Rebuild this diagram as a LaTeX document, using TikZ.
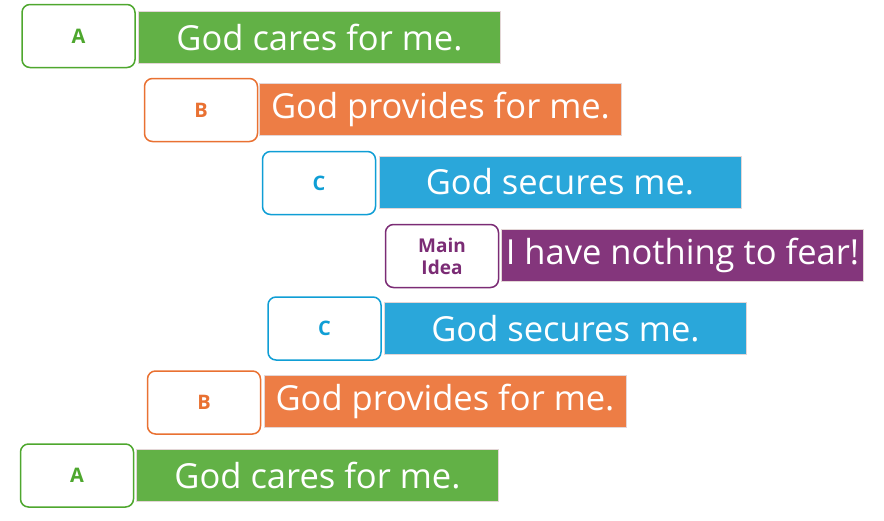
\documentclass[tikz,border=0pt]{standalone}
\usepackage{fontspec}
\setmainfont{Open Sans}
\definecolor{gA}{HTML}{62B146}
\definecolor{gAt}{HTML}{4EA72E}
\definecolor{oB}{HTML}{ED7D45}
\definecolor{oBt}{HTML}{E97132}
\definecolor{bC}{HTML}{2AA7DA}
\definecolor{bCt}{HTML}{0F9ED5}
\definecolor{pM}{HTML}{84367C}
\definecolor{pMt}{HTML}{7B2C75}
\definecolor{edgeline}{HTML}{E3D6D6}
\tikzset{
  lab/.style={draw=#1, text=#1, fill=white, line width=1.5pt, rounded corners=8pt,
    minimum width=113pt, minimum height=63pt, inner sep=0pt, outer sep=0pt,
    font=\fontsize{20}{21}\selectfont\bfseries, align=center},
  bar/.style={draw=edgeline, fill=#1, text=white, line width=1pt,
    minimum width=362pt, minimum height=52pt, inner sep=0pt, outer sep=0pt,
    font=\fontsize{34.5}{36}\selectfont},
}
\begin{document}
\begin{tikzpicture}[x=1pt,y=-1pt]
\useasboundingbox (0,0) rectangle (884,520);
\node[lab=gAt] (la1) at (78.5,36) {A};
\node[bar=gA] (b1) at (319.5,37.5) {God cares for me.};
\node[lab=oBt] (lb1) at (201,110) {B};
\node[bar=oB] (b2) at (440.5,109.5) {God provides for me.};
\node[lab=bCt] (lc1) at (319,183) {C};
\node[bar=bC] (b3) at (560,182) {God secures me.};
\node[lab=pMt, font=\fontsize{19}{22}\selectfont\bfseries] (lm) at (442,256) {Main\\Idea};
\node[bar=pM] (b4) at (682.5,255.5) {I have nothing to fear!};
\node[lab=bCt] (lc2) at (324.5,328.5) {C};
\node[bar=bC] (b5) at (565.5,328.5) {God secures me.};
\node[lab=oBt] (lb2) at (204,402.5) {B};
\node[bar=oB] (b6) at (445,401.5) {God provides for me.};
\node[lab=gAt] (la2) at (77,475.5) {A};
\node[bar=gA] (b7) at (317.5,475.5) {God cares for me.};
\end{tikzpicture}
\end{document}
